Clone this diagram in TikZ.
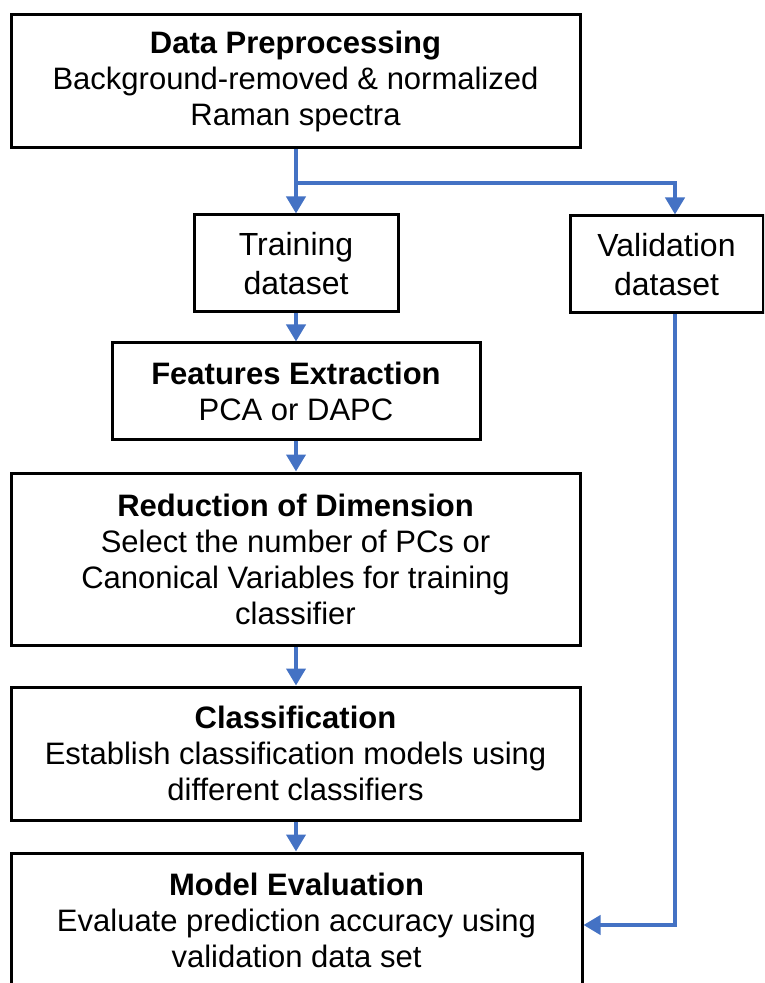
\documentclass[tikz,border=0pt]{standalone}
\usepackage{fontspec}
\setmainfont{Liberation Sans}
\usetikzlibrary{arrows.meta}
\definecolor{flowblue}{HTML}{4472C4}
\begin{document}
\begin{tikzpicture}[x=0.5pt,y=-0.5pt,
  box/.style={draw=black, line width=1.5pt, fill=white, inner sep=0pt,
    align=center, font=\fontsize{15.5pt}{18pt}\selectfont},
  smallbox/.style={box, font=\fontsize{16pt}{19.5pt}\selectfont},
  flow/.style={draw=flowblue, line width=2pt,
    -{Triangle[length=8.5pt,width=9.5pt]}},
  flowline/.style={draw=flowblue, line width=2pt}]
  % page frame
  \clip (0,0) rectangle (764,983);
  \fill[white] (0,0) rectangle (764,983);

  % process boxes
  \node[box, minimum width=284.5pt, minimum height=66.5pt] (pre) at (295.5,81.5)
    {\textbf{Data Preprocessing}\\Background-removed \& normalized\\Raman spectra};
  \node[smallbox, minimum width=102pt, minimum height=48.5pt] (train) at (296,263.5)
    {Training\\dataset};
  \node[smallbox, minimum width=96.5pt, minimum height=48.5pt] (valid) at (666.5,264.5)
    {Validation\\dataset};
  \node[box, minimum width=184pt, minimum height=48pt] (feat) at (296,391)
    {\textbf{Features Extraction}\\PCA or DAPC};
  \node[box, minimum width=284.5pt, minimum height=86pt] (red) at (295.5,559)
    {\textbf{Reduction of Dimension}\\Select the number of PCs or\\Canonical Variables for training\\classifier};
  \node[box, minimum width=284.5pt, minimum height=66.5pt] (cls) at (295.5,753.5)
    {\textbf{Classification}\\Establish classification models using\\different classifiers};
  \node[box, minimum width=285.5pt, minimum height=67.5pt] (eval) at (296.5,920.5)
    {\textbf{Model Evaluation}\\Evaluate prediction accuracy using\\validation data set};

  % helper points for the split and the validation route
  \coordinate (split) at (296,183);
  \coordinate (vx) at (675,0);
  \coordinate (evin) at (0,925);

  % connectors
  \draw[flowline] (pre.south -| split) -- (split);
  \draw[flow] (split) -- (train.north);
  \draw[flow] (split) -| (valid.north -| vx);
  \draw[flow] (train.south) -- (train.south |- feat.north);
  \draw[flow] (feat.south) -- (feat.south |- red.north);
  \draw[flow] (red.south -| feat.south) -- (feat.south |- cls.north);
  \draw[flow] (cls.south -| feat.south) -- (feat.south |- eval.north);
  \draw[flow] (valid.south -| vx) |- (eval.east |- evin);
\end{tikzpicture}
\end{document}
